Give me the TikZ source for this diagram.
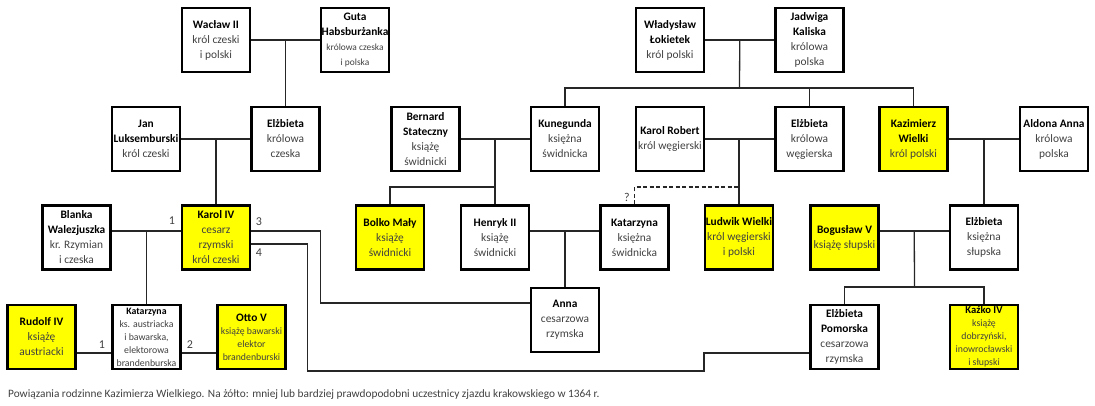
\documentclass[tikz,border=0pt]{standalone}
\usepackage{fontspec}
\setmainfont{Carlito}
\usetikzlibrary{calc}
\definecolor{txtgray}{HTML}{404040}
\definecolor{ylw}{HTML}{FFFF00}
\begin{document}
\begin{tikzpicture}[x=1pt,y=-1pt,
  pbox/.style={draw=black, line width=2.3pt, minimum width=68pt, minimum height=64pt, inner sep=0pt, align=center,
    font=\fontsize{11.4}{15}\selectfont, text=txtgray},
  yel/.style={pbox, fill=ylw},
  smalltxt/.style={font=\fontsize{9.8}{13}\selectfont},
  conn/.style={line width=1.3pt, draw=black!85},
  num/.style={font=\fontsize{12}{13}\selectfont, text=txtgray, inner sep=0pt}]
\useasboundingbox (0,0) rectangle (1095,405);
% row 1
\node[pbox] (wac) at (216,40) {\textbf{\color{black}Wacław II}\\król czeski\\i polski};
\node[pbox] (guta) at (355,40) {\textbf{\color{black}Guta}\\\textbf{\color{black}Habsburżanka}\\{\fontsize{9.4}{13}\selectfont królowa czeska}\\{\fontsize{9.4}{13}\selectfont i polska}};
\node[pbox] (wlad) at (670,40) {\textbf{\color{black}Władysław}\\\textbf{\color{black}Łokietek}\\król polski};
\node[pbox] (jad) at (809.5,40) {\textbf{\color{black}Jadwiga}\\\textbf{\color{black}Kaliska}\\królowa\\polska};
% row 2
\node[pbox] (jan) at (146,139) {\textbf{\color{black}Jan}\\\textbf{\color{black}Luksemburski}\\król czeski};
\node[pbox] (elzc) at (285.5,139) {\textbf{\color{black}Elżbieta}\\królowa\\czeska};
\node[pbox] (bern) at (425.5,139) {\textbf{\color{black}Bernard}\\\textbf{\color{black}Stateczny}\\książę\\świdnicki};
\node[pbox] (kun) at (565,139) {\textbf{\color{black}Kunegunda}\\księżna\\świdnicka};
\node[pbox] (karr) at (670,139) {\textbf{\color{black}Karol Robert}\\król węgierski};
\node[pbox] (elzw) at (809.5,139) {\textbf{\color{black}Elżbieta}\\królowa\\węgierska};
\node[yel] (kaz) at (913.5,139) {\textbf{\color{black}Kazimierz}\\\textbf{\color{black}Wielki}\\król polski};
\node[pbox] (ald) at (1054,139) {\textbf{\color{black}Aldona Anna}\\królowa\\polska};
% row 3
\node[pbox] (blanka) at (76.5,237.5) {\textbf{\color{black}Blanka}\\\textbf{\color{black}Walezjuszka}\\kr. Rzymian\\i czeska};
\node[yel] (karol) at (216,237.5) {\textbf{\color{black}Karol IV}\\cesarz\\rzymski\\król czeski};
\node[yel] (bolko) at (390,237.5) {\textbf{\color{black}Bolko Mały}\\książę\\świdnicki};
\node[pbox] (henryk) at (495,237.5) {\textbf{\color{black}Henryk II}\\książę\\świdnicki};
\node[pbox] (katsw) at (634.5,237.5) {\textbf{\color{black}Katarzyna}\\księżna\\świdnicka};
\node[yel] (ludwik) at (739,237.5) {\textbf{\color{black}Ludwik Wielki}\\król węgierski\\i polski};
\node[yel] (bog) at (844.5,237.5) {\textbf{\color{black}Bogusław V}\\książę słupski};
\node[pbox] (elzs) at (984,237.5) {\textbf{\color{black}Elżbieta}\\księżna\\słupska};
% row 4
\node[yel] (rudolf) at (41.5,337) {\textbf{\color{black}Rudolf IV}\\książę\\austriacki};
\node[pbox, smalltxt] (katA) at (146.5,337) {\textbf{\color{black}Katarzyna}\\ks. austriacka\\i bawarska,\\elektorowa\\brandenburska};
\node[yel, smalltxt] (otto) at (251.5,337) {{\fontsize{11.4}{15}\selectfont\textbf{\color{black}Otto V}}\\książę bawarski\\elektor\\brandenburski};
\node[pbox] (anna) at (565,320) {\textbf{\color{black}Anna}\\cesarzowa\\rzymska};
\node[pbox] (elzp) at (844.5,337) {\textbf{\color{black}Elżbieta}\\\textbf{\color{black}Pomorska}\\cesarzowa\\rzymska};
\node[yel, smalltxt] (kazko) at (984,337) {{\fontsize{10.6}{13}\selectfont\textbf{\color{black}Kaźko IV}}\\książę\\dobrzyński,\\inowrocławski\\i słupski};
% connectors
\draw[conn] (wac.east) -- (guta.west);
\draw[conn] (elzc.north) -- (elzc.north |- wac.east);
\draw[conn] (jan.east) -- (elzc.west);
\draw[conn] (karol.north) -- (karol.north |- jan.east);
\draw[conn] (wlad.east) -- (jad.west);
\coordinate (bus1) at (739.5,88);
\draw[conn] ($(wlad.east)!0.5!(jad.west)$) -- (bus1);
\draw[conn] (kun.north) -- (kun.north |- bus1) -- (kaz.north |- bus1) -- (kaz.north);
\draw[conn] (elzw.north) -- (elzw.north |- bus1);
\draw[conn] (bern.east) -- (kun.west);
\coordinate (bus2) at (495,187);
\draw[conn] (henryk.north) -- (henryk.north |- kun.west);
\draw[conn] (henryk.north |- bus2) -| (bolko.north);
\draw[conn] (karr.east) -- (elzw.west);
\draw[conn] (ludwik.north) -- (ludwik.north |- elzw.west);
\draw[conn, dashed, dash pattern=on 4pt off 2.5pt] (katsw.north) -- (katsw.north |- bus2) coordinate (q) -- (q -| ludwik.north);
\node[num] (qm) at (627,197) {?};
\draw[conn] (kaz.east) -- (ald.west);
\draw[conn] (elzs.north) -- (elzs.north |- ald.west);
\path ([yshift=6.5pt]blanka.east) coordinate (bk1) ([yshift=6.5pt]karol.west) coordinate (bk2);
\draw[conn] (bk1) -- (bk2);
\draw[conn] (katA.north) -- (katA.north |- bk1);
\path ([yshift=6.5pt]henryk.east) coordinate (hk1) ([yshift=6.5pt]katsw.west) coordinate (hk2);
\draw[conn] (hk1) -- (hk2);
\draw[conn] (anna.north) -- (anna.north |- hk1);
\path ([yshift=6.5pt]bog.east) coordinate (be1) ([yshift=6.5pt]elzs.west) coordinate (be2);
\draw[conn] (be1) -- (be2);
\coordinate (bus3) at (914.5,287);
\draw[conn] ($(be1)!0.5!(be2)$) -- (bus3);
\draw[conn] (elzp.north) -- (elzp.north |- bus3) -- (kazko.north |- bus3) -- (kazko.north);
\draw[conn] ([yshift=-16pt]rudolf.east) -- ([yshift=-16pt]katA.west);
\draw[conn] ([yshift=-16pt]katA.east) -- ([yshift=-16pt]otto.west);
\draw[conn] ([yshift=6.5pt]karol.east) -- ++(69,0) |- ([yshift=17pt]anna.west);
\coordinate (k4) at (704,371);
\draw[conn] ([yshift=-6.5pt]karol.east) -- ++(56,0) |- (k4) |- ([yshift=-16pt]elzp.west);
% numbers
\node[num] (n1a) at (172,221) {1};
\node[num] (n3) at (259,222) {3};
\node[num] (n4) at (259,253) {4};
\node[num] (n1b) at (102,345) {1};
\node[num] (n2) at (190,345) {2};
% caption
\node[anchor=west, inner sep=0pt, text=txtgray, font=\fontsize{11.3}{13}\selectfont] (cap) at (8,395) {Powiązania rodzinne Kazimierza Wielkiego. Na żółto: mniej lub bardziej prawdopodobni uczestnicy zjazdu krakowskiego w 1364 r.};
\end{tikzpicture}
\end{document}
